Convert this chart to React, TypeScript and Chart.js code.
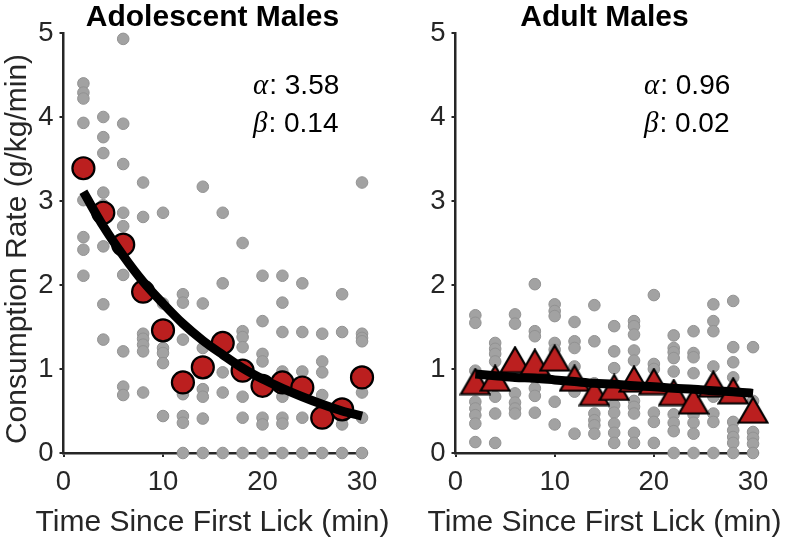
import React, { useEffect, useRef } from 'react';
import { Chart, registerables } from 'chart.js';

Chart.register(...registerables);

// ---------- data ----------
const timeBins = [2, 4, 6, 8, 10, 12, 14, 16, 18, 20, 22, 24, 26, 28, 30];
const xTicks = [0, 10, 20, 30];
const yTicks = [0, 1, 2, 3, 4, 5];

const adolescentIndividual: number[][] = [
  [4.40, 4.29, 4.22, 3.93, 3.01, 2.57, 2.42, 2.11],
  [4.00, 3.76, 3.57, 3.10, 2.95, 2.46, 1.77, 1.35],
  [4.93, 3.92, 3.44, 2.86, 2.70, 2.12, 1.21, 0.79, 0.69],
  [3.22, 2.81, 1.42, 1.36, 1.29, 1.21, 0.72],
  [2.86, 1.78, 1.25, 1.19, 1.07, 0.44],
  [1.89, 1.79, 1.35, 0.77, 0.70, 0.44, 0.36, 0],
  [3.17, 1.78, 1.25, 0.76, 0.67, 0.41, 0],
  [2.86, 2.02, 0.96, 0.72, 0],
  [2.50, 1.45, 1.38, 1.26, 0.67, 0.42, 0],
  [2.11, 1.57, 1.18, 1.09, 0.42, 0.34, 0],
  [2.11, 1.79, 1.44, 0.97, 0.67, 0.42, 0.35, 0],
  [2.02, 1.44, 0.97, 0.42, 0],
  [1.42, 1.09, 0.96, 0.69, 0],
  [1.89, 1.44, 0.42, 0.34, 0],
  [3.22, 1.42, 1.37, 1.33, 0.72, 0.42, 0],
];
const adolescentMean = [3.39, 2.86, 2.48, 1.92, 1.46, 0.84, 1.02, 1.31, 0.98, 0.80, 0.84, 0.78, 0.42, 0.52, 0.90];
const adolescentFit = [3.11, 2.70, 2.35, 2.04, 1.78, 1.54, 1.34, 1.17, 1.01, 0.88, 0.77, 0.67, 0.58, 0.50, 0.44];

const adultIndividual: number[][] = [
  [1.64, 1.55, 0.98, 0.61, 0.53, 0.45, 0.35, 0.13],
  [1.31, 1.24, 1.18, 1.09, 0.67, 0.47, 0.12],
  [1.65, 1.54, 0.71, 0.60, 0.53, 0.47],
  [2.01, 1.45, 1.39, 0.89, 0.77, 0.68, 0.48],
  [1.77, 1.69, 1.63, 1.31, 1.23, 0.61, 0.34],
  [1.56, 1.33, 1.25, 1.03, 0.73, 0.23],
  [1.76, 1.33, 0.83, 0.47, 0.39, 0.33, 0.23],
  [1.51, 1.21, 1.01, 0.57, 0.48, 0.35, 0.24, 0.12],
  [1.57, 1.51, 1.41, 1.22, 1.10, 0.62, 0.55, 0.47, 0.24, 0.12],
  [1.88, 1.06, 1.00, 0.48, 0.37, 0.12],
  [1.40, 1.25, 1.20, 1.13, 0.97, 0.46, 0.36, 0.26, 0],
  [1.45, 1.19, 1.14, 0.95, 0.46, 0.36, 0.23, 0],
  [1.77, 1.57, 1.45, 1.03, 0.67, 0.47, 0.37, 0],
  [1.81, 1.26, 1.08, 0.90, 0.37, 0.27, 0.19, 0.12, 0],
  [1.26, 0.62, 0.25, 0.18, 0.11, 0],
];
const adultMean = [0.85, 0.89, 1.11, 1.08, 1.13, 0.89, 0.72, 0.78, 0.88, 0.85, 0.72, 0.62, 0.82, 0.74, 0.51];
const adultFit = [0.94, 0.92, 0.90, 0.89, 0.87, 0.85, 0.83, 0.82, 0.80, 0.79, 0.77, 0.76, 0.74, 0.73, 0.71];

// ---------- styling ----------
const SANS = '"Liberation Sans", Arial, Helvetica, sans-serif';
const SERIF = '"Liberation Serif", "DejaVu Serif", serif';
const AXIS = '#262626';
const GRAY_FILL = '#a2a2a2';
const GRAY_EDGE = '#929292';
const RED = '#bb1f1f';
const W = 394;
const H = 542;

function makeTriangle(): HTMLCanvasElement {
  const c = document.createElement('canvas');
  const w = 32;
  const h = 28;
  c.width = w;
  c.height = h;
  const ctx = c.getContext('2d')!;
  ctx.beginPath();
  ctx.moveTo(w / 2, 1.5);
  ctx.lineTo(w - 1.5, h - 1.5);
  ctx.lineTo(1.5, h - 1.5);
  ctx.closePath();
  ctx.fillStyle = RED;
  ctx.fill();
  ctx.lineWidth = 2.2;
  ctx.lineJoin = 'miter';
  ctx.strokeStyle = '#000';
  ctx.stroke();
  return c;
}

type Panel = {
  title: string;
  yTitle?: string;
  alpha: string;
  beta: string;
  individual: number[][];
  mean: number[];
  fit: number[];
  marker: 'circle' | 'triangle';
  areaLeft: number;
  areaRight: number;
  areaTop: number;
  areaBottom: number;
  centerX: number;
  annotX: number;
};

const panels: Panel[] = [
  {
    title: 'Adolescent Males',
    yTitle: 'Consumption Rate (g/kg/min)',
    alpha: '3.58',
    beta: '0.14',
    individual: adolescentIndividual,
    mean: adolescentMean,
    fit: adolescentFit,
    marker: 'circle',
    areaLeft: 63.5,
    areaRight: 367,
    areaTop: 33,
    areaBottom: 453,
    centerX: 212.5,
    annotX: 253,
  },
  {
    title: 'Adult Males',
    alpha: '0.96',
    beta: '0.02',
    individual: adultIndividual,
    mean: adultMean,
    fit: adultFit,
    marker: 'triangle',
    areaLeft: 61.5,
    areaRight: 364,
    areaTop: 33,
    areaBottom: 453,
    centerX: 210.5,
    annotX: 250,
  },
];

function textPlugin(p: Panel) {
  return {
    id: 'panelText',
    afterDraw(chart: any) {
      const ctx: CanvasRenderingContext2D = chart.ctx;
      ctx.save();
      // title
      ctx.fillStyle = '#000';
      ctx.font = `bold 30px ${SANS}`;
      ctx.textAlign = 'center';
      ctx.textBaseline = 'alphabetic';
      ctx.fillText(p.title, p.centerX, 25.5);
      // x title
      ctx.fillStyle = AXIS;
      ctx.font = `30px ${SANS}`;
      ctx.fillText('Time Since First Lick (min)', p.centerX, 530.5);
      // y title
      if (p.yTitle) {
        ctx.save();
        ctx.translate(25.5, 249);
        ctx.rotate(-Math.PI / 2);
        ctx.textAlign = 'center';
        ctx.fillText(p.yTitle, 0, 0);
        ctx.restore();
      }
      // annotations
      const lines: [string, string, number][] = [
        ['\u03B1', ': ' + p.alpha, 93.5],
        ['\u03B2', ': ' + p.beta, 132],
      ];
      ctx.textAlign = 'left';
      ctx.fillStyle = '#000';
      for (const [sym, rest, y] of lines) {
        ctx.font = `italic 29px ${SERIF}`;
        ctx.fillText(sym, p.annotX, y);
        const w = ctx.measureText(sym).width;
        ctx.font = `28px ${SANS}`;
        ctx.fillText(rest, p.annotX + w + 1, y);
      }
      ctx.restore();
    },
  };
}

function PanelChart({ p, left }: { p: Panel; left: number }) {
  const ref = useRef<HTMLCanvasElement | null>(null);
  useEffect(() => {
    if (!ref.current) return;
    const scatterPts: { x: number; y: number }[] = [];
    p.individual.forEach((vals, i) => {
      vals.forEach((v) => scatterPts.push({ x: timeBins[i], y: v }));
    });
    const meanPts = p.mean.map((v, i) => ({ x: timeBins[i], y: v }));
    const fitPts = p.fit.map((v, i) => ({ x: timeBins[i], y: v }));
    const tri = p.marker === 'triangle' ? makeTriangle() : null;

    const tickFont = { family: SANS, size: 27.5 };
    const chart = new Chart(ref.current, {
      type: 'scatter',
      data: {
        datasets: [
          {
            data: fitPts,
            showLine: true,
            borderColor: '#000',
            borderWidth: 9,
            borderCapStyle: 'butt',
            pointRadius: 0,
            cubicInterpolationMode: 'monotone',
            order: 1,
            clip: false,
          } as any,
          {
            data: meanPts,
            pointStyle: tri ? tri : 'circle',
            pointRadius: 11,
            backgroundColor: RED,
            borderColor: '#000',
            borderWidth: 2.2,
            order: 2,
            clip: false,
          } as any,
          {
            data: scatterPts,
            pointRadius: 5.8,
            backgroundColor: GRAY_FILL,
            borderColor: GRAY_EDGE,
            borderWidth: 1,
            order: 3,
            clip: false,
          } as any,
        ],
      },
      options: {
        responsive: false,
        animation: false,
        devicePixelRatio: 1,
        events: [],
        layout: {
          padding: { left: 0, top: p.areaTop, right: W - p.areaRight, bottom: 0 },
        },
        plugins: {
          legend: { display: false },
          tooltip: { enabled: false },
          title: { display: false },
        },
        scales: {
          x: {
            type: 'linear',
            min: 0,
            max: 30.5,
            afterFit: (s: any) => {
              s.height = H - p.areaBottom;
            },
            afterBuildTicks: (s: any) => {
              s.ticks = xTicks.map((v) => ({ value: v }));
            },
            grid: {
              display: true,
              drawOnChartArea: false,
              drawTicks: true,
              tickLength: 4,
              color: AXIS,
              lineWidth: 2,
            },
            border: { display: true, color: AXIS, width: 2.5 },
            ticks: {
              font: tickFont,
              color: AXIS,
              padding: 9,
              maxRotation: 0,
              autoSkip: false,
            },
          },
          y: {
            type: 'linear',
            min: 0,
            max: 5,
            afterFit: (s: any) => {
              s.width = p.areaLeft;
            },
            afterBuildTicks: (s: any) => {
              s.ticks = yTicks.map((v) => ({ value: v }));
            },
            grid: {
              display: true,
              drawOnChartArea: false,
              drawTicks: true,
              tickLength: 4,
              color: AXIS,
              lineWidth: 2,
            },
            border: { display: true, color: AXIS, width: 2.5 },
            ticks: {
              font: tickFont,
              color: AXIS,
              padding: 6,
              autoSkip: false,
            },
          },
        },
      } as any,
      plugins: [textPlugin(p)],
    });
    return () => chart.destroy();
  }, [p]);
  return (
    <canvas
      ref={ref}
      width={W}
      height={H}
      style={{ position: 'absolute', left, top: 0, width: W, height: H, display: 'block' }}
    />
  );
}

export default function App() {
  return (
    <div
      style={{
        position: 'fixed',
        left: 0,
        top: 0,
        width: 788,
        height: 542,
        background: '#fff',
        overflow: 'hidden',
      }}
    >
      <PanelChart p={panels[0]} left={0} />
      <PanelChart p={panels[1]} left={394} />
    </div>
  );
}
